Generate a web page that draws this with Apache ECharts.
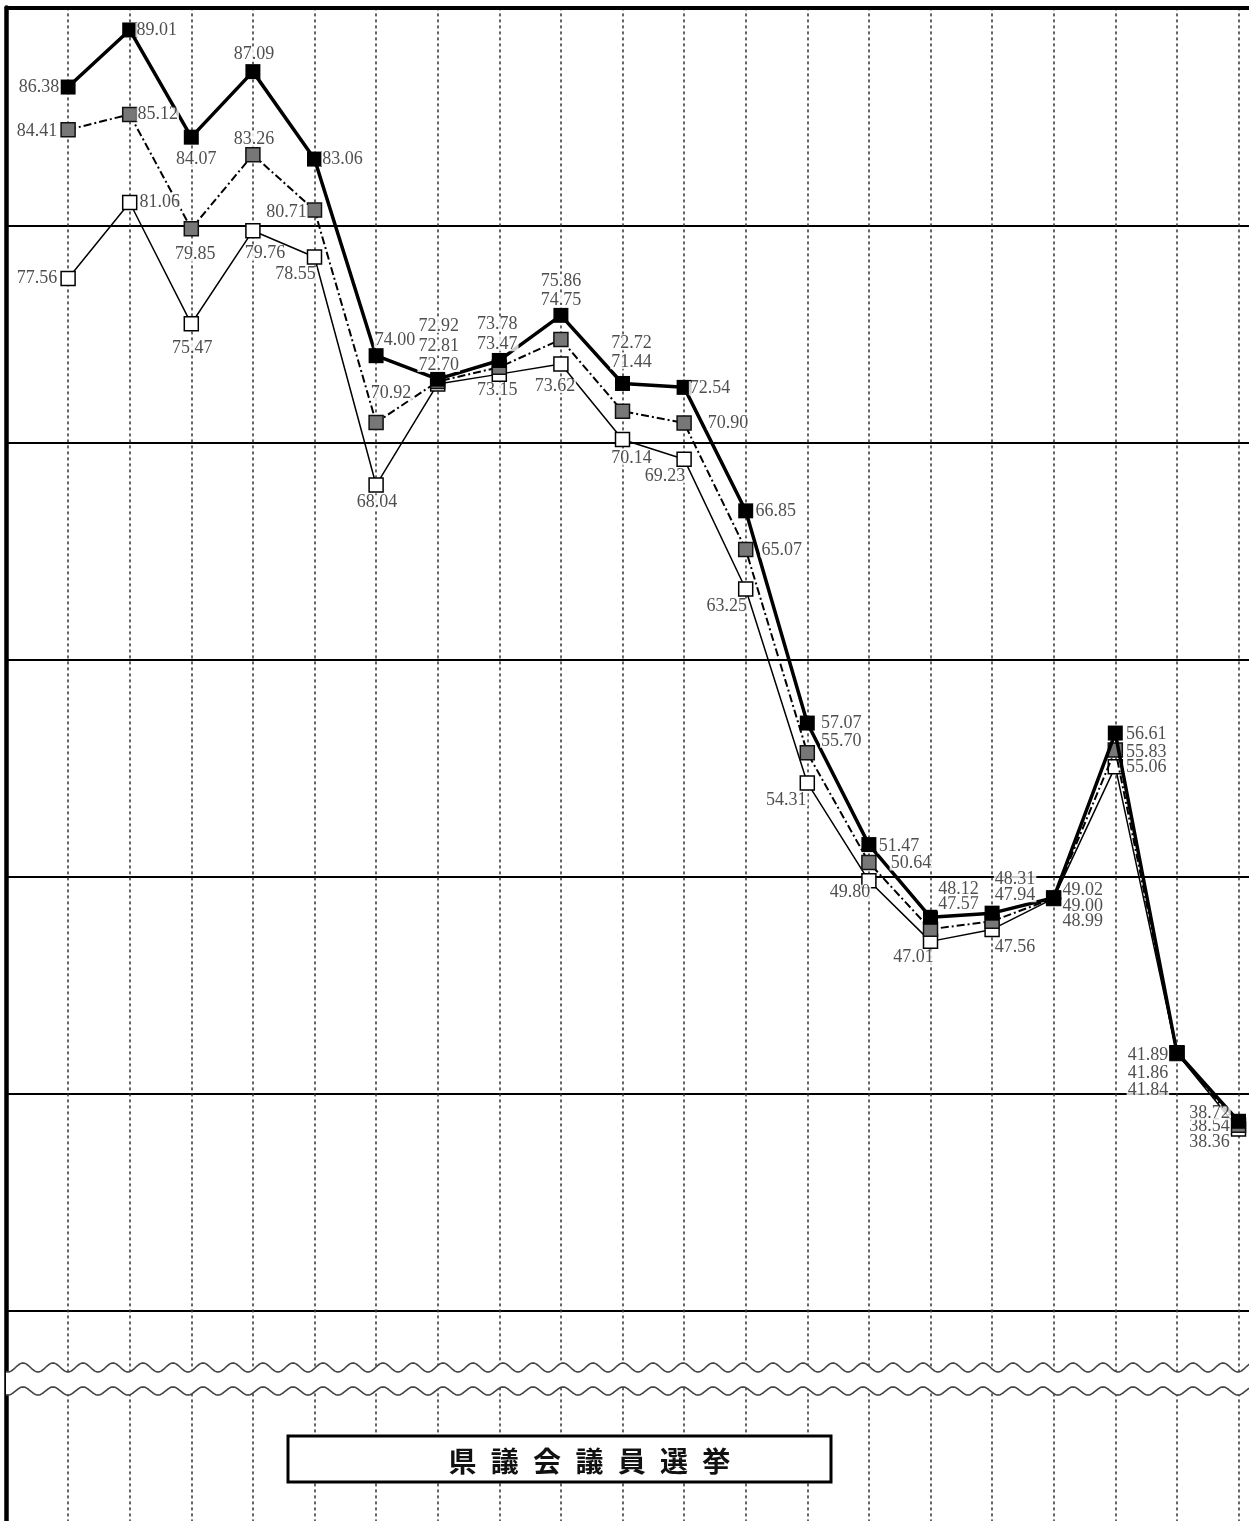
<!DOCTYPE html>
<html><head><meta charset="utf-8">
<style>html,body{margin:0;padding:0;background:#fff}#c{width:1249px;height:1521px}</style>
<script src="https://cdn.jsdelivr.net/npm/echarts@6/dist/echarts.min.js"></script>
</head><body><div id="c"></div>
<script>
// ---- data ----
const rounds = [1,2,3,4,5,6,7,8,9,10,11,12,13,14,15,16,17,18,19,20];
const seriesBlack = [86.38,89.01,84.07,87.09,83.06,74.00,72.92,73.78,75.86,72.72,72.54,66.85,57.07,51.47,48.12,48.31,49.02,56.61,41.89,38.72];
const seriesGray  = [84.41,85.12,79.85,83.26,80.71,70.92,72.81,73.47,74.75,71.44,70.90,65.07,55.70,50.64,47.57,47.94,49.00,55.83,41.86,38.54];
const seriesWhite = [77.56,81.06,75.47,79.76,78.55,68.04,72.70,73.15,73.62,70.14,69.23,63.25,54.31,49.80,47.01,47.56,48.99,55.06,41.84,38.36];
const yTicks = [20,30,40,50,60,70,80,90];
const titleText = '県議会議員選挙';

// ---- label placement (offset of label centre from its marker, px) ----
const labelOffsets = {
  black: [[-29,0],[27,0],[5,22],[1,-17],[28,0],[19,-15],[1,-53],[-2,-36],[0,-34],[9,-40],[26,1],[30,0],[34,0],[30,2],[28,-28],[23,-34],[29,-7],[31,1],[-29,3],[-29,-8]],
  gray:  [[-31,1],[28,0],[4,26],[1,-15],[-28,2],[15,-29],[1,-35],[-2,-23],[0,-39],[9,-49],[44,0],[36,1],[34,-12],[42,1],[28,-25],[23,-26],[29,8],[31,2],[-29,20],[-29,1]],
  white: [[-31,0],[30,0],[1,24],[12,23],[-19,17],[1,17],[1,-19],[-2,16],[-6,22],[9,19],[-19,17],[-19,17],[-21,17],[-19,11],[-17,16],[23,18],[29,23],[31,1],[-29,37],[-29,13]]
};

const chart = echarts.init(document.getElementById('c'), null, {renderer: 'canvas'});

function lineSeries(name, vals, z, itemStyle, lineStyle, size) {
  return {
    type: 'line', name: name, z: z,
    data: vals.map((v, i) => [rounds[i], v]),
    symbol: 'rect', symbolSize: size, showSymbol: true,
    itemStyle: itemStyle, lineStyle: lineStyle,
    emphasis: {disabled: true}, animation: false, silent: true
  };
}
function labelSeries(name, vals, offs) {
  return {
    type: 'scatter', name: name + '-label', z: 10,
    symbol: 'rect', symbolSize: 1,
    itemStyle: {color: 'rgba(0,0,0,0)'},
    data: vals.map((v, i) => ({
      value: [rounds[i], v],
      label: {offset: offs[i]}
    })),
    label: {
      show: true, position: 'inside',
      formatter: p => p.value[1].toFixed(2),
      fontFamily: 'Liberation Serif', fontSize: 18, color: '#222',
      backgroundColor: '#fff', padding: [0, 1], lineHeight: 14
    },
    emphasis: {disabled: true}, animation: false, silent: true
  };
}

function wave(cy, amp) {
  const pts = [];
  for (let x = 6; x <= 1252; x += 1) {
    pts.push([x, cy + amp * Math.cos(2 * Math.PI * (x - 8) / 30)]);
  }
  return pts;
}
const w1 = wave(1367.5, 4.5), w2 = wave(1391, 4);
const band = w1.concat(w2.slice().reverse());

const titleChars = Array.from(titleText).map((ch, i) => ({
  type: 'text', z: 101,
  style: {
    text: ch, x: 462.5 + i * 42.3, y: 1461,
    font: 'bold 28px "Noto Sans CJK JP"', fill: '#111',
    textAlign: 'center', textVerticalAlign: 'middle'
  }
}));

const pxPerX = 61.6;
chart.setOption({
  animation: false,
  backgroundColor: '#fff',
  grid: {left: 6.5, top: 7.4, width: 20.2 * pxPerX, height: (90.05 - yTicks[0]) * 21.7,
         containLabel: false, outerBoundsMode: 'none'},
  xAxis: {
    type: 'value', min: 0, max: 20.2, interval: 1, position: 'top',
    axisLine: {show: true, onZero: false, lineStyle: {color: '#000', width: 4}},
    axisTick: {show: false}, axisLabel: {show: false},
    splitLine: {show: true, lineStyle: {color: '#333', width: 1.5, type: [3, 3]}}
  },
  yAxis: {
    type: 'value', min: yTicks[0], max: 90.05, interval: 10,
    axisLine: {show: true, onZero: false, lineStyle: {color: '#000', width: 4.5}},
    axisTick: {show: false}, axisLabel: {show: false},
    splitLine: {show: true, lineStyle: {color: '#000', width: 2}}
  },
  series: [
    lineSeries('white', seriesWhite, 2,
      {color: '#fff', borderColor: '#000', borderWidth: 1.5},
      {color: '#000', width: 1.5, type: 'solid'}, 14),
    lineSeries('gray', seriesGray, 3,
      {color: '#777', borderColor: '#111', borderWidth: 1.5},
      {color: '#000', width: 2, type: [8, 3, 2, 3]}, 14),
    lineSeries('black', seriesBlack, 4,
      {color: '#000', borderColor: '#000', borderWidth: 0},
      {color: '#000', width: 3.5, type: 'solid'}, 15),
    labelSeries('white', seriesWhite, labelOffsets.white),
    labelSeries('gray', seriesGray, labelOffsets.gray),
    labelSeries('black', seriesBlack, labelOffsets.black)
  ],
  graphic: [
    {type: 'polygon', z: 100, shape: {points: band}, style: {fill: '#fff'}},
    {type: 'polyline', z: 100, shape: {points: w1}, style: {stroke: '#444', lineWidth: 1.6, fill: null}},
    {type: 'polyline', z: 100, shape: {points: w2}, style: {stroke: '#444', lineWidth: 1.6, fill: null}},
    {type: 'rect', z: 100, shape: {x: 288, y: 1436, width: 543, height: 46}, style: {fill: '#fff', stroke: '#000', lineWidth: 3}}
  ].concat(titleChars)
});
</script>
</body></html>
